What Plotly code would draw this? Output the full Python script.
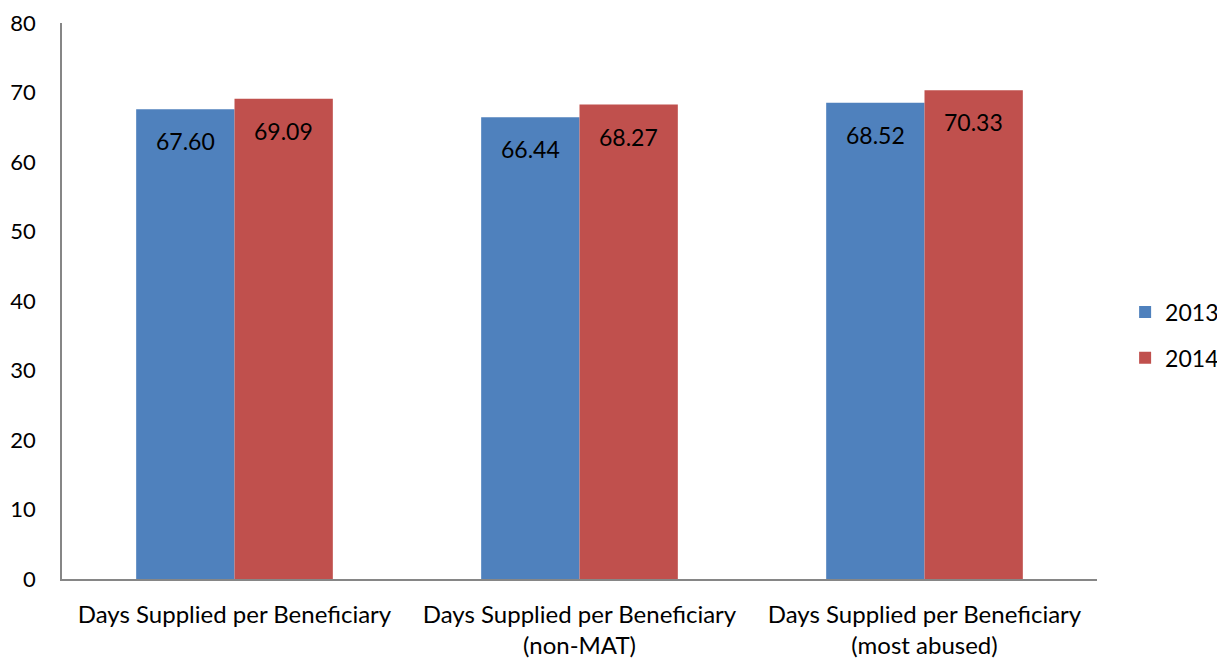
import plotly.graph_objects as go

categories = ["Days Supplied per Beneficiary",
              "Days Supplied per Beneficiary<br>(non-MAT)",
              "Days Supplied per Beneficiary<br>(most abused)"]
series_names = ["2013", "2014"]
values_2013 = [67.60, 66.44, 68.52]
values_2014 = [69.09, 68.27, 70.33]
colors = ["#4F81BD", "#C0504D"]
y_ticks = [0, 10, 20, 30, 40, 50, 60, 70, 80]

FONT = "Lato"

fig = go.Figure()
for i, (name, vals) in enumerate(zip(series_names, [values_2013, values_2014])):
    fig.add_trace(go.Bar(
        x=categories, y=vals, name=name, marker_color=colors[i],
        marker_line_width=0, legendgroup=name,
    ))

bar_frac = (1 - 0.43) / 2
annotations = []
for i, vals in enumerate([values_2013, values_2014]):
    off = (i - 0.5) * bar_frac
    for j, v in enumerate(vals):
        annotations.append(dict(
            x=j + off, y=v, xref="x", yref="y", text=f"{v:.2f}",
            showarrow=False, yanchor="top", yshift=-16,
            font=dict(family=FONT, size=23, color="black"),
        ))

fig.update_layout(
    width=1209, height=654,
    margin=dict(l=54, r=120, t=15, b=83, autoexpand=False),
    paper_bgcolor="white", plot_bgcolor="white",
    barmode="group", bargap=0.43, bargroupgap=0,
    font=dict(family=FONT, size=22, color="black"),
    showlegend=True,
    legend=dict(xref="container", x=0.924, xanchor="left",
                yref="container", y=0.5, yanchor="middle",
                font=dict(family=FONT, size=23), itemwidth=30,
                tracegroupgap=13, bgcolor="rgba(0,0,0,0)"),
    annotations=annotations,
    xaxis=dict(showline=True, linecolor="#868686", linewidth=1.5,
               ticks="", showgrid=False, ticklabelstandoff=13,
               automargin=False, ticklabeloverflow="allow",
               tickfont=dict(family=FONT, size=24)),
    yaxis=dict(range=[0, 80], tickvals=y_ticks, showline=True,
               linecolor="#868686", linewidth=1.5, ticks="",
               showgrid=False, zeroline=False, ticklabelstandoff=20,
               automargin=False, ticklabeloverflow="allow",
               tickfont=dict(family=FONT, size=22)),
)

fig.write_html("out.html")
